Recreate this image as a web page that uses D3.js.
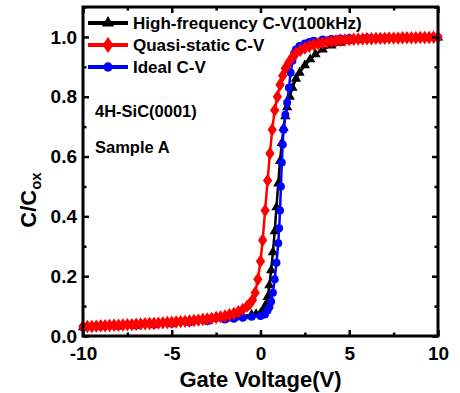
<!DOCTYPE html>
<html><head><meta charset="utf-8">
<script src="https://cdn.jsdelivr.net/npm/d3@7"></script>
<style>
body{margin:0;background:#fff;}
svg{display:block;}
text{font-family:"Liberation Sans",Arial,sans-serif;font-weight:bold;fill:#000;}
</style></head>
<body>
<svg id="chart" width="460" height="393"></svg>
<script>
// ---- data ----
const seriesNames = ["High-frequency C-V(100kHz)", "Quasi-static C-V", "Ideal C-V"];
const hfV = [-10,-9,-8,-7,-6,-5,-4,-3,-2,-1.5,-1,-0.5,-0.25,0,0.1,0.2,0.3,0.4,0.5,0.6,0.7,0.8,0.9,1.0,1.1,1.2,1.3,1.4,1.5,1.65,1.8,2.0,2.2,2.5,2.8,3.1,3.5,4,4.5,5,5.5,6,7,8,9,10];
const hfC = [.029,.031,.033,.036,.039,.043,.047,.052,.058,.062,.066,.071,.073,.076,.079,.09,.105,.13,.17,.22,.28,.35,.43,.51,.585,.645,.695,.735,.765,.80,.83,.86,.88,.905,.925,.942,.958,.971,.98,.986,.99,.993,.995,.996,.997,.998];
const qsV = [-10,-9.75,-9.5,-9.25,-9,-8.75,-8.5,-8.25,-8,-7.75,-7.5,-7.25,-7,-6.75,-6.5,-6.25,-6,-5.75,-5.5,-5.25,-5,-4.75,-4.5,-4.25,-4,-3.75,-3.5,-3.25,-3,-2.75,-2.5,-2.25,-2,-1.75,-1.5,-1.25,-1,-0.75,-0.6,-0.45,-0.3,-0.15,0,0.12,0.26,0.4,0.53,0.66,0.8,0.95,1.1,1.25,1.4,1.6,1.8,2.0,2.25,2.5,2.75,3.0,3.25,3.5,3.75,4,4.25,4.5,4.75,5,5.25,5.5,5.75,6,6.25,6.5,6.75,7,7.25,7.5,7.75,8,8.25,8.5,8.75,9,9.25,9.5,9.75,10];
const qsC = [.031,.032,.032,.033,.034,.034,.035,.036,.036,.037,.038,.038,.039,.040,.041,.042,.042,.043,.044,.045,.046,.047,.048,.049,.050,.052,.053,.055,.057,.059,.062,.064,.067,.071,.075,.081,.089,.100,.108,.12,.145,.19,.25,.32,.42,.52,.61,.69,.755,.80,.84,.87,.895,.915,.933,.945,.955,.963,.969,.974,.977,.980,.983,.985,.987,.989,.990,.991,.992,.993,.993,.994,.994,.995,.995,.995,.996,.996,.996,.997,.997,.997,.997,.998,.998,.998,.999,.999];
const idV = [-10,-9,-8,-7,-6,-5,-4,-3,-2,-1.5,-1,-0.5,0,0.25,0.4,0.5,0.6,0.7,0.8,0.9,1.0,1.05,1.1,1.15,1.2,1.25,1.3,1.4,1.5,1.6,1.7,1.8,1.9,2.0,2.2,2.5,2.75,3.0,3.5,4,4.5,5,6,7,8,9,10];
const idC = [.029,.031,.033,.035,.038,.041,.045,.049,.055,.058,.061,.064,.067,.072,.085,.097,.115,.145,.19,.245,.31,.36,.42,.50,.58,.64,.69,.74,.78,.83,.88,.92,.945,.958,.97,.978,.983,.987,.991,.993,.995,.996,.997,.997,.998,.998,.999];
const xTicks = [-10,-5,0,5,10];
const yTicks = [0.0,0.2,0.4,0.6,0.8,1.0];
const annotations = ["4H-SiC(0001)", "Sample A"];

// ---- layout ----
const svg = d3.select("#chart");
const L = 83, R = 438, T = 7, B = 336;
const x = d3.scaleLinear().domain([-10,10]).range([L,R]);
const y = d3.scaleLinear().domain([0,1.1]).range([B,T]);

const series = [
  {name:seriesNames[0], V:hfV, C:hfC, color:"#000000", marker:"triangle"},
  {name:seriesNames[2], V:idV, C:idC, color:"#0000ff", marker:"circle"},
  {name:seriesNames[1], V:qsV, C:qsC, color:"#ff0000", marker:"diamond"}
];
const symbolOf = {triangle:d3.symbolTriangle, circle:d3.symbolCircle, diamond:d3.symbolDiamond};
const sizeOf = {triangle:46, circle:50, diamond:52};
const markTf = s => s.marker==="diamond" ? " scale(1.2,1)" : "";

const line = d3.line().x(d=>x(d[0])).y(d=>y(d[1]));
const plot = svg.append("g");
series.forEach(s=>{
  const pts = s.V.map((v,i)=>[v,s.C[i]]);
  plot.append("path").attr("d",line(pts)).attr("fill","none")
      .attr("stroke",s.color).attr("stroke-width",2.5);
  plot.selectAll(null).data(pts).enter().append("path")
      .attr("transform",d=>`translate(${x(d[0])},${y(d[1])})${markTf(s)}`)
      .attr("d",d3.symbol().type(symbolOf[s.marker]).size(sizeOf[s.marker]))
      .attr("fill",s.color);
});

// ---- axes ----
const isMajorX = d=>xTicks.some(t=>Math.abs(t-d)<1e-6);
const isMajorY = d=>yTicks.some(t=>Math.abs(t-d)<1e-6);
const axB = d3.axisBottom(x).tickValues(d3.range(-10,10.01,2.5)).tickSize(-6).tickFormat(d=>isMajorX(d)?String(d):"");
const axT = d3.axisTop(x).tickValues(d3.range(-10,10.01,2.5)).tickSize(-6).tickFormat("");
const axL = d3.axisLeft(y).tickValues(d3.range(0,1.101,0.1)).tickSize(-6).tickFormat(d=>isMajorY(d)?d.toFixed(1):"");
const axR = d3.axisRight(y).tickValues(d3.range(0,1.101,0.1)).tickSize(-6).tickFormat("");

function styleAxis(g){
  g.select(".domain").remove();
  g.selectAll(".tick line").attr("stroke","#000").attr("stroke-width",2.5);
  g.selectAll(".tick text").style("font-size","19px").attr("fill","#000");
}
const gb = svg.append("g").attr("transform",`translate(0,${B})`).call(axB);
styleAxis(gb);
gb.selectAll(".tick").filter(d=>!isMajorX(d)).select("line").attr("y2",-3.5);
gb.selectAll(".tick text").attr("y",11).attr("dy","0.71em");
const gt = svg.append("g").attr("transform",`translate(0,${T})`).call(axT);
styleAxis(gt);
gt.selectAll(".tick").filter(d=>!isMajorX(d)).select("line").attr("y2",3.5);
const gl = svg.append("g").attr("transform",`translate(${L},0)`).call(axL);
styleAxis(gl);
gl.selectAll(".tick").filter(d=>!isMajorY(d)).select("line").attr("x2",3.5);
gl.selectAll(".tick text").attr("x",-6);
const gr = svg.append("g").attr("transform",`translate(${R},0)`).call(axR);
styleAxis(gr);
gr.selectAll(".tick").filter(d=>!isMajorY(d)).select("line").attr("x2",-3.5);

svg.append("rect").attr("x",L).attr("y",T).attr("width",R-L).attr("height",B-T)
   .attr("fill","none").attr("stroke","#000").attr("stroke-width",3);

// ---- axis titles ----
svg.append("text").attr("x",(L+R)/2).attr("y",387).attr("text-anchor","middle")
   .style("font-size","22px").text("Gate Voltage(V)");
const yl = svg.append("text").attr("transform","translate(36,200) rotate(-90)")
   .attr("text-anchor","middle").style("font-size","22px");
yl.append("tspan").text("C/C");
yl.append("tspan").attr("dy",5).style("font-size","15px").text("ox");

// ---- legend ----
const legendOrder = [series[0], series[2], series[1]];
legendOrder.forEach((s,i)=>{
  const ly = 23 + i*22;
  svg.append("line").attr("x1",88).attr("x2",128).attr("y1",ly).attr("y2",ly)
     .attr("stroke",s.color).attr("stroke-width",4);
  svg.append("path").attr("transform",`translate(108,${ly})${markTf(s)}`)
     .attr("d",d3.symbol().type(symbolOf[s.marker]).size(sizeOf[s.marker]*1.4)).attr("fill",s.color);
  svg.append("text").attr("x",133).attr("y",ly+6).style("font-size","17px").text(s.name);
});

// ---- annotations ----
svg.append("text").attr("x",95).attr("y",117).style("font-size","16.5px").text(annotations[0]);
svg.append("text").attr("x",95).attr("y",153).style("font-size","16.5px").text(annotations[1]);
</script>
</body></html>
